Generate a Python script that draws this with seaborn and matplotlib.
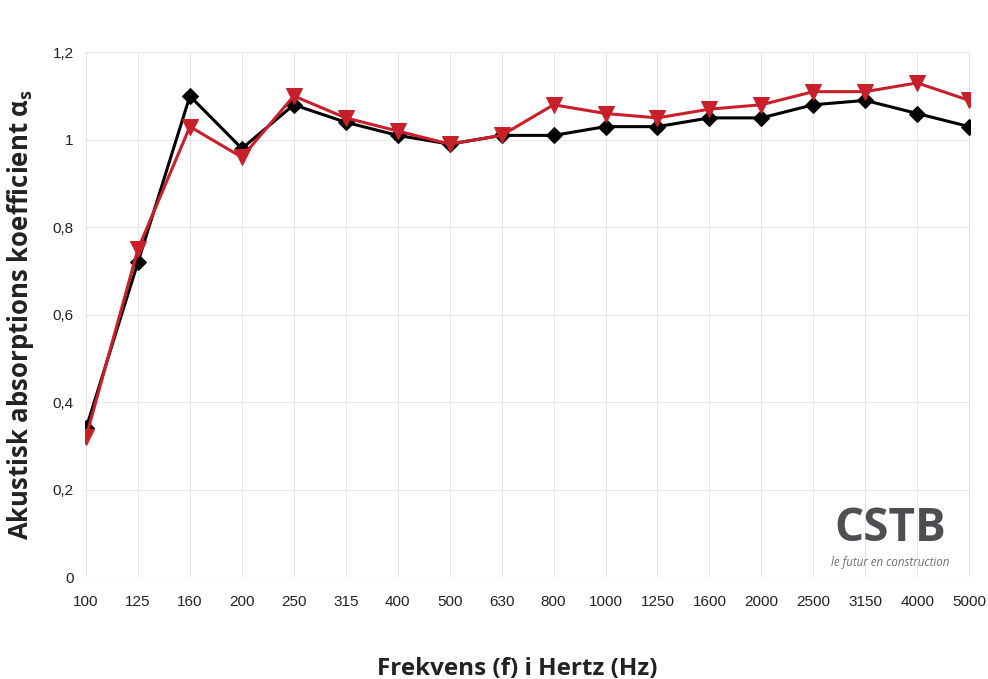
import matplotlib
matplotlib.use("Agg")
import matplotlib.pyplot as plt
import seaborn as sns
import pandas as pd

# frequency bands (Hz) and measured absorption coefficients
frequencies = ["100", "125", "160", "200", "250", "315", "400", "500", "630",
               "800", "1000", "1250", "1600", "2000", "2500", "3150", "4000", "5000"]
alpha_black = [0.34, 0.72, 1.10, 0.98, 1.08, 1.04, 1.01, 0.99, 1.01,
               1.01, 1.03, 1.03, 1.05, 1.05, 1.08, 1.09, 1.06, 1.03]
alpha_red = [0.32, 0.75, 1.03, 0.96, 1.10, 1.05, 1.02, 0.99, 1.01,
             1.08, 1.06, 1.05, 1.07, 1.08, 1.11, 1.11, 1.13, 1.09]
y_ticks = [0, 0.2, 0.4, 0.6, 0.8, 1.0, 1.2]
y_tick_labels = ["0", "0,2", "0,4", "0,6", "0,8", "1", "1,2"]

df = pd.DataFrame({"freq": frequencies, "black": alpha_black, "red": alpha_red})

sns.set_theme(style="whitegrid")
plt.rcParams["font.family"] = ["Liberation Sans", "DejaVu Sans"]

fig = plt.figure(figsize=(9.88, 6.79), dpi=100)
ax = fig.add_axes([0.086, 0.150, 0.896, 0.773])

sns.lineplot(data=df, x="freq", y="black", sort=False, color="black", linewidth=2.2,
             marker="D", markersize=8, markeredgecolor="black", ax=ax, zorder=3)
sns.lineplot(data=df, x="freq", y="red", sort=False, color="#c8202a", linewidth=2.2,
             marker="v", markersize=11, markeredgecolor="#c8202a", ax=ax, zorder=4)

ax.set_xlim(-0.02, len(frequencies) - 1 + 0.02)
ax.set_ylim(0, 1.2)
ax.set_yticks(y_ticks)
ax.set_yticklabels(y_tick_labels)
ax.tick_params(axis="both", labelsize=11, colors="#222222", length=0)
ax.tick_params(axis="x", pad=13)
ax.tick_params(axis="y", pad=8)
ax.grid(True, color="#e6e6e6", linewidth=0.8)
for s in ax.spines.values():
    s.set_visible(False)

ax.set_xlabel("Frekvens (f) i Hertz (Hz)", fontsize=17.5, fontweight="bold",
              color="#222222", family="Open Sans")
ax.xaxis.set_label_coords(0.488, -0.152)
ax.set_ylabel(r"Akustisk absorptions koefficient α$_\mathregular{s}$", fontsize=18.5,
              fontweight="bold", color="#222222", family="Open Sans", labelpad=12)

# CSTB logo
fig.text(0.901, 0.222, "CSTB", fontsize=33, fontweight="bold",
         color="#4d4f53", family="Open Sans", ha="center", va="center")
fig.text(0.901, 0.171, "le futur en construction", fontsize=8.3, style="italic",
         color="#6d6f73", family="Open Sans", ha="center", va="center")

plt.savefig("out.png", dpi=100)
